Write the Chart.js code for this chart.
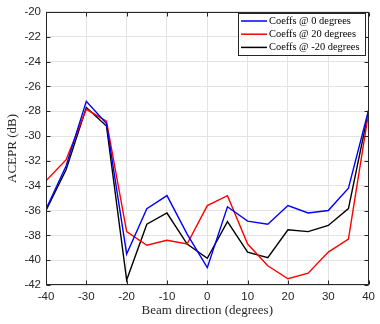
<!DOCTYPE html>
<html>
<head>
<meta charset="utf-8">
<script src="https://cdn.jsdelivr.net/npm/chart.js@4.4.1/dist/chart.umd.min.js"></script>
<style>
  html, body { margin: 0; padding: 0; background: #fff; }
  #wrap { width: 380px; height: 324px; }
</style>
</head>
<body>
<div id="wrap"><canvas id="c" width="380" height="324"></canvas></div>
<script>
// Beam directions (degrees)
const beamAngles = [-40, -35, -30, -25, -20, -15, -10, -5, 0, 5, 10, 15, 20, 25, 30, 35, 40];
// ACEPR (dB) for each coefficient set
const coeffs0   = [-35.9, -32.4, -27.2, -29.0, -39.5, -35.85, -34.8, -37.9, -40.6, -35.7, -36.85, -37.1, -35.6, -36.2, -36.0, -34.2, -27.9];
const coeffs20  = [-33.6, -31.9, -27.85, -28.8, -37.7, -38.8, -38.4, -38.7, -35.6, -34.8, -38.7, -40.45, -41.5, -41.05, -39.35, -38.3, -28.1];
const coeffsM20 = [-36.0, -32.7, -27.7, -29.2, -41.6, -37.1, -36.2, -38.7, -39.85, -36.9, -39.35, -39.8, -37.55, -37.7, -37.2, -35.85, -28.0];
const seriesNames = ['Coeffs @ 0 degrees', 'Coeffs @ 20 degrees', 'Coeffs @ -20 degrees'];
const seriesColors = ['#0000ff', '#ff0000', '#000000'];
const xTicks = [-40, -30, -20, -10, 0, 10, 20, 30, 40];
const yTicks = [-20, -22, -24, -26, -28, -30, -32, -34, -36, -38, -40, -42];

const toPoints = vals => beamAngles.map((a, i) => ({ x: a, y: vals[i] }));

const SERIF = '"Liberation Serif", "Times New Roman", serif';
const SANS = '"Liberation Sans", Arial, sans-serif';

// Box frame, inward tick marks, axis titles and the inset legend
const framePlugin = {
  id: 'frame',
  afterDraw(chart) {
    const { ctx, chartArea: a, scales } = chart;
    ctx.save();
    ctx.strokeStyle = '#262626';
    ctx.lineWidth = 1;
    const L = Math.round(a.left) + 0.5, R = Math.round(a.right) - 0.5;
    const T = Math.round(a.top) + 0.5, B = Math.round(a.bottom) - 0.5;
    ctx.strokeRect(L, T, R - L, B - T);
    ctx.beginPath();
    const tl = 4;
    xTicks.forEach(v => {
      const px = Math.round(scales.x.getPixelForValue(v)) + 0.5;
      ctx.moveTo(px, B); ctx.lineTo(px, B - tl);
      ctx.moveTo(px, T); ctx.lineTo(px, T + tl);
    });
    yTicks.forEach(v => {
      const py = Math.round(scales.y.getPixelForValue(v)) + 0.5;
      ctx.moveTo(L, py); ctx.lineTo(L + tl, py);
      ctx.moveTo(R, py); ctx.lineTo(R - tl, py);
    });
    ctx.stroke();

    // axis titles
    ctx.fillStyle = '#262626';
    ctx.font = '13px ' + SERIF;
    ctx.textAlign = 'center';
    ctx.textBaseline = 'middle';
    ctx.fillText('Beam direction (degrees)', (a.left + a.right) / 2, 311);
    ctx.save();
    ctx.translate(13, (a.top + a.bottom) / 2);
    ctx.rotate(-Math.PI / 2);
    ctx.fillText('ACEPR (dB)', 0, 0);
    ctx.restore();

    // legend
    const bx = 238, by = 13, bw = 128, bh = 43;
    ctx.fillStyle = '#ffffff';
    ctx.fillRect(bx, by, bw, bh);
    ctx.strokeStyle = '#262626';
    ctx.strokeRect(bx + 0.5, by + 0.5, bw - 1, bh - 1);
    ctx.font = '10.4px ' + SERIF;
    ctx.textAlign = 'left';
    seriesNames.forEach((name, i) => {
      const yy = 21 + i * 13.2;
      ctx.strokeStyle = seriesColors[i];
      ctx.lineWidth = 1.5;
      ctx.beginPath();
      ctx.moveTo(241, yy); ctx.lineTo(267, yy);
      ctx.stroke();
      ctx.fillStyle = '#000';
      ctx.fillText(name, 269, yy);
    });
    ctx.restore();
  }
};

new Chart(document.getElementById('c'), {
  type: 'line',
  data: {
    datasets: [coeffs0, coeffs20, coeffsM20].map((vals, i) => ({
      label: seriesNames[i],
      data: toPoints(vals),
      borderColor: seriesColors[i],
      backgroundColor: seriesColors[i],
      borderWidth: 1.4,
      pointRadius: 0,
      tension: 0,
      fill: false
    }))
  },
  options: {
    responsive: false,
    animation: false,
    devicePixelRatio: 1,
    layout: { padding: { top: 6, right: 6, left: 0, bottom: 0 } },
    plugins: { legend: { display: false }, tooltip: { enabled: false } },
    scales: {
      x: {
        type: 'linear',
        min: -40, max: 40,
        afterBuildTicks: s => { s.ticks = xTicks.map(v => ({ value: v })); },
        afterFit: s => { s.height = 39; },
        grid: { color: '#e3e3e3', drawTicks: false },
        border: { display: false },
        ticks: { color: '#262626', font: { family: SANS, size: 11.5 }, padding: 5, maxRotation: 0 }
      },
      y: {
        min: -42, max: -20,
        afterBuildTicks: s => { s.ticks = yTicks.map(v => ({ value: v })); },
        afterFit: s => { s.width = 46; },
        grid: { color: '#e3e3e3', drawTicks: false },
        border: { display: false },
        ticks: { color: '#262626', font: { family: SANS, size: 11.5 }, padding: 5 }
      }
    }
  },
  plugins: [framePlugin]
});
</script>
</body>
</html>
